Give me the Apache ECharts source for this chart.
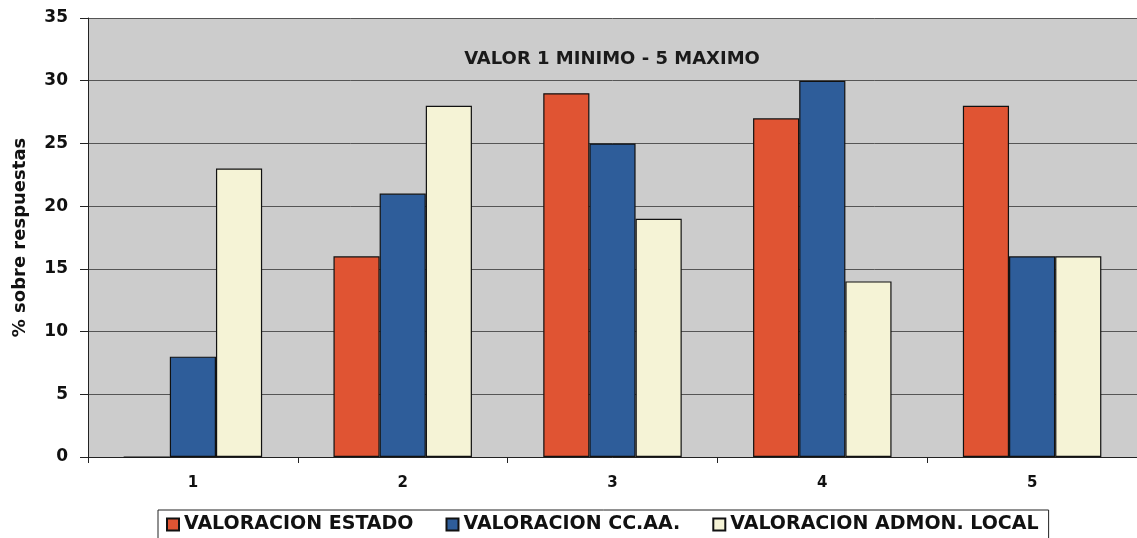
<!DOCTYPE html>
<html>
<head>
<meta charset="utf-8">
<script src="https://cdn.jsdelivr.net/npm/echarts@6/dist/echarts.min.js"></script>
<style>
  html, body { margin: 0; padding: 0; background: #fff; }
  #chart { width: 1137px; height: 538px; }
</style>
</head>
<body>
<div id="chart"></div>
<script>
// datos
var categorias = ["1", "2", "3", "4", "5"];
var estado = [0, 16, 29, 27, 28];
var ccaa = [8, 21, 25, 30, 16];
var local = [23, 28, 19, 14, 16];

var fuente = "DejaVu Sans";
var myChart = echarts.init(document.getElementById("chart"));

var barBorder = { borderColor: "#111", borderWidth: 1.2 };

var option = {
  backgroundColor: "#fff",
  textStyle: { fontFamily: fuente, fontWeight: "bold" },
  title: {
    text: "VALOR 1 MINIMO - 5 MAXIMO",
    left: 607,
    top: 45,
    textAlign: "center",
    textStyle: { fontSize: 18, fontWeight: "bold", color: "#1a1a1a", fontFamily: fuente }
  },
  legend: {
    top: 510,
    left: 158,
    icon: "rect",
    itemWidth: 12,
    itemHeight: 12,
    itemGap: 32,
    padding: [5, 10, 12, 8],
    borderColor: "#222",
    borderWidth: 1,
    textStyle: { fontSize: 19, fontWeight: "bold", color: "#111", fontFamily: fuente },
    data: ["VALORACION ESTADO", "VALORACION CC.AA.", "VALORACION ADMON. LOCAL"]
  },
  grid: {
    left: 88,
    right: 0,
    top: 18,
    bottom: 81,
    show: true,
    backgroundColor: "#cccccc",
    borderWidth: 0
  },
  xAxis: {
    type: "category",
    data: categorias,
    axisLine: { lineStyle: { color: "#222", width: 1 } },
    axisTick: { show: true, length: 6, lineStyle: { color: "#222" } },
    axisLabel: { fontSize: 15, fontWeight: "bold", color: "#111", margin: 19, fontFamily: fuente }
  },
  yAxis: {
    type: "value",
    min: 0,
    max: 35,
    interval: 5,
    name: "% sobre respuestas",
    nameLocation: "middle",
    nameGap: 59,
    nameTextStyle: { fontSize: 18, fontWeight: "bold", color: "#111", fontFamily: fuente },
    axisLine: { show: true, lineStyle: { color: "#222", width: 1 } },
    axisTick: { show: true, length: 8, lineStyle: { color: "#222" } },
    axisLabel: { fontSize: 17, fontWeight: "bold", color: "#111", margin: 20, fontFamily: fuente },
    splitLine: { lineStyle: { color: "#555", width: 1 } }
  },
  series: [
    {
      name: "VALORACION ESTADO",
      type: "bar",
      data: estado,
      barGap: "0%",
      barCategoryGap: "34%",
      itemStyle: Object.assign({ color: "#e05433" }, barBorder)
    },
    {
      name: "VALORACION CC.AA.",
      type: "bar",
      data: ccaa,
      barGap: "0%",
      barCategoryGap: "34%",
      itemStyle: Object.assign({ color: "#2e5d9a" }, barBorder)
    },
    {
      name: "VALORACION ADMON. LOCAL",
      type: "bar",
      data: local,
      barGap: "0%",
      barCategoryGap: "34%",
      itemStyle: Object.assign({ color: "#f5f3d6" }, barBorder)
    }
  ]
};

myChart.setOption(option);
</script>
</body>
</html>
